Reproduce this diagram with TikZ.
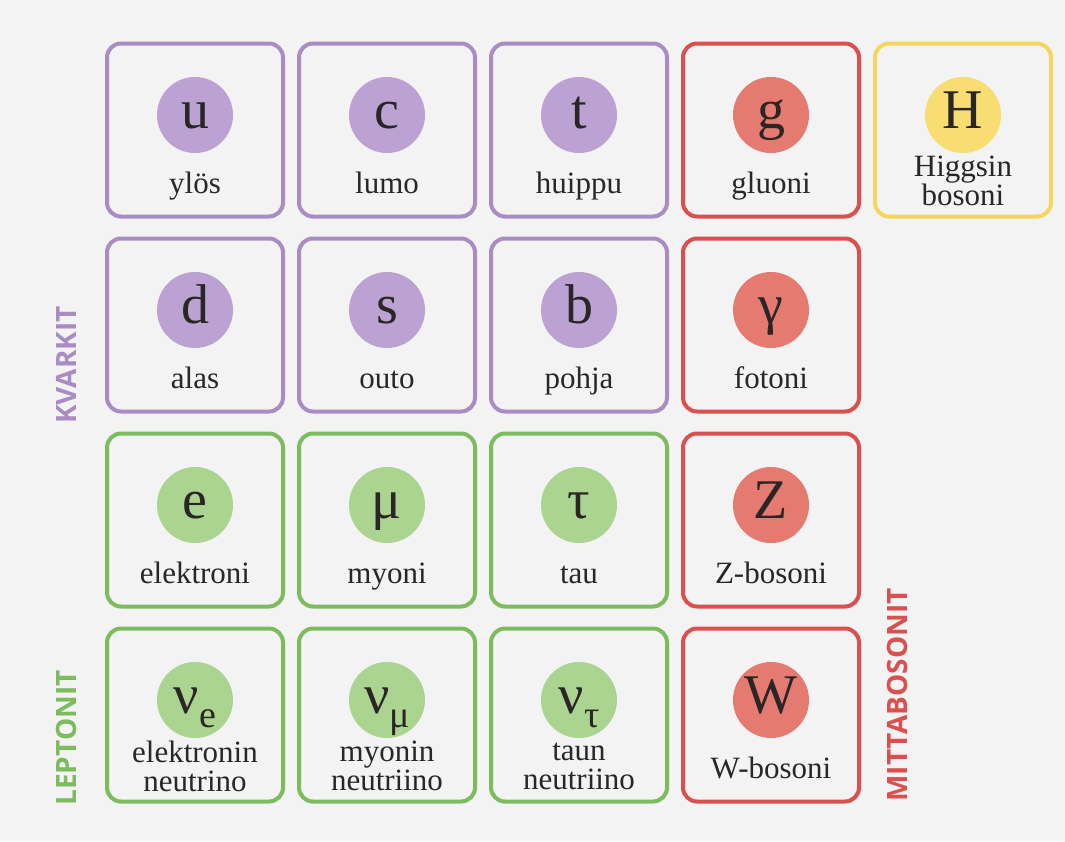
\documentclass[tikz,border=0pt]{standalone}
\usepackage{fontspec}
\setmainfont{Liberation Serif}
\newfontfamily\groupfont{Open Sans}
\definecolor{bgray}{HTML}{F3F3F3}
\definecolor{textgray}{HTML}{2A2626}
\definecolor{quarkline}{HTML}{A98CC3}
\definecolor{quarkfill}{HTML}{BBA2D2}
\definecolor{leptonline}{HTML}{7CBB5E}
\definecolor{leptonfill}{HTML}{AAD48F}
\definecolor{bosonline}{HTML}{D9504F}
\definecolor{bosonfill}{HTML}{E47A70}
\definecolor{higgsline}{HTML}{F5D55C}
\definecolor{higgsfill}{HTML}{F8DE72}
\newcommand{\sub}[2]{#1\raisebox{-14pt}{\fontsize{38}{38}\selectfont #2}}
\newcommand{\capstrut}{\vrule width 0pt height 24pt depth 8pt\relax}
\begin{document}
\begin{tikzpicture}[x=1pt,y=-1pt,
  cellbox/.style={draw=#1line, line width=4pt, rounded corners=14pt,
    minimum width=176pt, minimum height=173pt},
  particle/.style={circle, fill=#1fill, minimum size=76pt, inner sep=0pt,
    text height=26pt, text depth=0pt,
    text=textgray, font=\fontsize{56}{56}\selectfont},
  caption/.style={align=center, text=textgray, inner sep=0pt,
    font=\fontsize{31}{29}\selectfont,
    execute at begin node={\lineskiplimit=-30pt\relax\capstrut},
    execute at end node=\capstrut},
  group/.style={rotate=90, text=#1line, font=\groupfont\bfseries\fontsize{28}{28}\selectfont}]
  \fill[bgray] (0,0) rectangle (1065,841);
  \useasboundingbox (0,0) rectangle (1065,841);
  % the cells: column/row/kind/symbol/name
  \foreach \c/\r/\k/\s/\n in {
      1/1/quark/u/ylös, 2/1/quark/c/lumo, 3/1/quark/t/huippu,
      1/2/quark/d/alas, 2/2/quark/s/outo, 3/2/quark/b/pohja,
      1/3/lepton/e/elektroni, 2/3/lepton/μ/myoni, 3/3/lepton/τ/tau,
      1/4/lepton/{\sub{ν}{e}}/{elektronin\\neutrino},
      2/4/lepton/{\sub{ν}{μ}}/{myonin\\neutriino},
      3/4/lepton/{\sub{ν}{τ}}/{taun\\neutriino},
      4/1/boson/g/gluoni, 4/2/boson/γ/fotoni,
      4/3/boson/Z/Z-bosoni, 4/4/boson/W/W-bosoni,
      5/1/higgs/H/{Higgsin\\bosoni}} {
    \node[cellbox=\k] (b-\c-\r) at ({195+192*(\c-1)},{130+195*(\r-1)}) {};
    \node[particle=\k] (p-\c-\r) at ([yshift=15pt]b-\c-\r.center) {\s};
    \node[caption] (t-\c-\r) at ([yshift=-55pt]b-\c-\r.center) {\n};
  }
  \node[group=quark] (kvarkit) at (66,365) {KVARKIT};
  \node[group=lepton] (leptonit) at (66,738) {LEPTONIT};
  \node[group=boson] (mittabosonit) at (897,695) {MITTABOSONIT};
\end{tikzpicture}
\end{document}
